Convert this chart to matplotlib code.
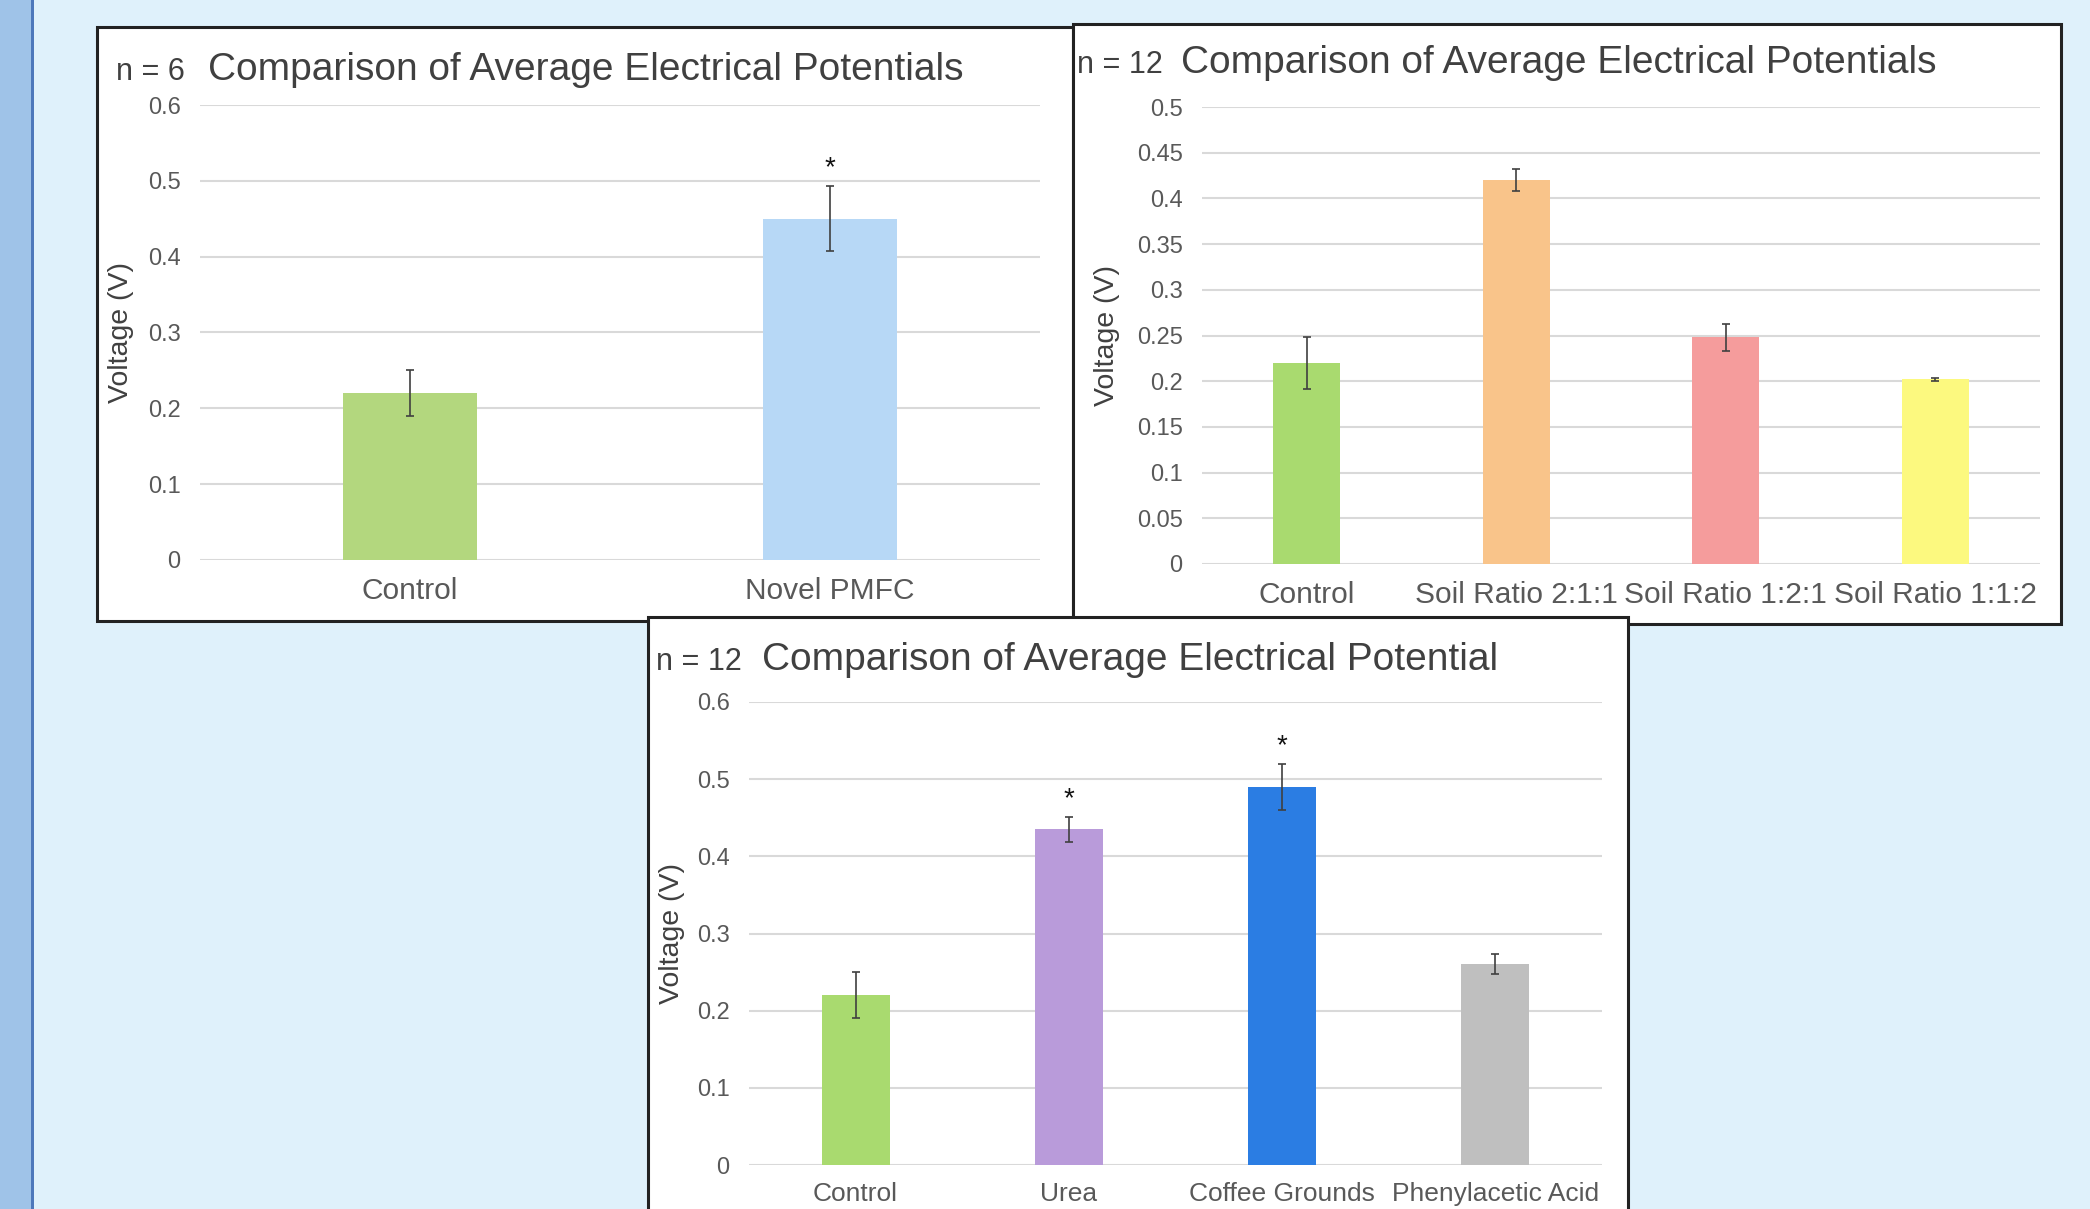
import matplotlib
matplotlib.use("Agg")
import matplotlib.pyplot as plt
from matplotlib.patches import Rectangle

plt.rcParams["font.family"] = ["Liberation Sans", "DejaVu Sans"]

W, H = 2090, 1209

# panel 1: control vs novel PMFC (n = 6)
p1_cats = ["Control", "Novel PMFC"]
p1_vals = [0.22, 0.45]
p1_errs = [0.03, 0.043]
p1_stars = [False, True]
p1_colors = ["#b3d77e", "#b7d8f6"]
p1_ticks = [0, 0.1, 0.2, 0.3, 0.4, 0.5, 0.6]
p1_ticklabels = ["0", "0.1", "0.2", "0.3", "0.4", "0.5", "0.6"]

# panel 2: soil ratios (n = 12)
p2_cats = ["Control", "Soil Ratio 2:1:1", "Soil Ratio 1:2:1", "Soil Ratio 1:1:2"]
p2_vals = [0.22, 0.42, 0.248, 0.202]
p2_errs = [0.028, 0.012, 0.015, 0.002]
p2_stars = [False, False, False, False]
p2_colors = ["#a9da6f", "#f9c48a", "#f59c9c", "#fcf97f"]
p2_ticks = [0, 0.05, 0.1, 0.15, 0.2, 0.25, 0.3, 0.35, 0.4, 0.45, 0.5]
p2_ticklabels = ["0", "0.05", "0.1", "0.15", "0.2", "0.25", "0.3", "0.35", "0.4", "0.45", "0.5"]

# panel 3: additives (n = 12)
p3_cats = ["Control", "Urea", "Coffee Grounds", "Phenylacetic Acid"]
p3_vals = [0.22, 0.435, 0.49, 0.26]
p3_errs = [0.03, 0.016, 0.03, 0.013]
p3_stars = [False, True, True, False]
p3_colors = ["#a9da6f", "#b99bda", "#2b7de3", "#bfbfbf"]
p3_ticks = [0, 0.1, 0.2, 0.3, 0.4, 0.5, 0.6]
p3_ticklabels = ["0", "0.1", "0.2", "0.3", "0.4", "0.5", "0.6"]


def fig_rect(x0, y0, x1, y1):
    """pixel box (top-left origin) -> figure fraction [l, b, w, h]"""
    return [x0 / W, 1 - y1 / H, (x1 - x0) / W, (y1 - y0) / H]


def panel(fig, box, axbox, n_text, title, cats, vals, errs, stars, colors,
          ticks, ticklabels, ymax, n_xy, title_x, xfs, ylab_x):
    l, b, w, h = fig_rect(*box)
    fig.patches.append(Rectangle((l, b), w, h, transform=fig.transFigure,
                                 facecolor="white", edgecolor="#222222",
                                 linewidth=2.2, zorder=1))
    ax = fig.add_axes(fig_rect(*axbox))
    ax.set_zorder(2)
    ax.patch.set_alpha(0)
    x = range(len(cats))
    ax.bar(x, vals, width=0.32, color=colors, zorder=2)
    ax.errorbar(x, vals, yerr=errs, fmt="none", ecolor="#404040",
                elinewidth=1.2, capsize=3, capthick=1.2, zorder=3)
    for i, s in enumerate(stars):
        if s:
            ax.text(i, vals[i] + errs[i] + 0.006, "*", ha="center",
                    va="bottom", fontsize=20, color="#111111")
    ax.set_ylim(0, ymax)
    ax.set_xlim(-0.5, len(cats) - 0.5)
    ax.set_yticks(ticks)
    ax.set_yticklabels(ticklabels)
    ax.set_xticks(list(x))
    ax.set_xticklabels(cats)
    ax.yaxis.grid(True, color="#d9d9d9", linewidth=1.5, zorder=0)
    ax.set_axisbelow(True)
    for sp in ax.spines.values():
        sp.set_visible(False)
    ax.tick_params(axis="both", length=0, colors="#595959")
    ax.tick_params(axis="y", labelsize=17, pad=14)
    ax.tick_params(axis="x", labelsize=xfs, pad=12)
    ax.set_ylabel("Voltage (V)", fontsize=20.5, color="#404040")
    ax.yaxis.set_label_coords(ylab_x, 0.5)
    # title: "n = .." then the larger heading
    nx, ny = n_xy
    fig.text(nx / W, 1 - ny / H, n_text, fontsize=22, color="#404040",
             ha="left", va="baseline", zorder=5)
    fig.text(title_x / W, 1 - ny / H, title, fontsize=28, color="#404040",
             ha="left", va="baseline", zorder=5)
    return ax


fig = plt.figure(figsize=(W / 100, H / 100), dpi=100)
fig.patch.set_facecolor("#dff1fb")
# left decorative strip
fig.patches.append(Rectangle((0, 0), 33 / W, 1, transform=fig.transFigure,
                             facecolor="#9fc3e8", edgecolor="none", zorder=0))
fig.patches.append(Rectangle((31 / W, 0), 3 / W, 1, transform=fig.transFigure,
                             facecolor="#4d78bb", edgecolor="none", zorder=0))

panel(fig, (97, 27, 1073, 621), (200, 105, 1040, 560),
      "n = 6", "Comparison of Average Electrical Potentials",
      p1_cats, p1_vals, p1_errs, p1_stars, p1_colors,
      p1_ticks, p1_ticklabels, 0.6, (116, 80), 208, 21.5, -0.079)
panel(fig, (1073, 24, 2061, 624), (1202, 107, 2040, 564),
      "n = 12", "Comparison of Average Electrical Potentials",
      p2_cats, p2_vals, p2_errs, p2_stars, p2_colors,
      p2_ticks, p2_ticklabels, 0.5, (1077, 73), 1181, 21.5, -0.098)
panel(fig, (648, 617, 1628, 1230), (749, 702, 1602, 1165),
      "n = 12", "Comparison of Average Electrical Potential",
      p3_cats, p3_vals, p3_errs, p3_stars, p3_colors,
      p3_ticks, p3_ticklabels, 0.6, (656, 670), 762, 19, -0.075)

fig.savefig("out.png", dpi=100)
